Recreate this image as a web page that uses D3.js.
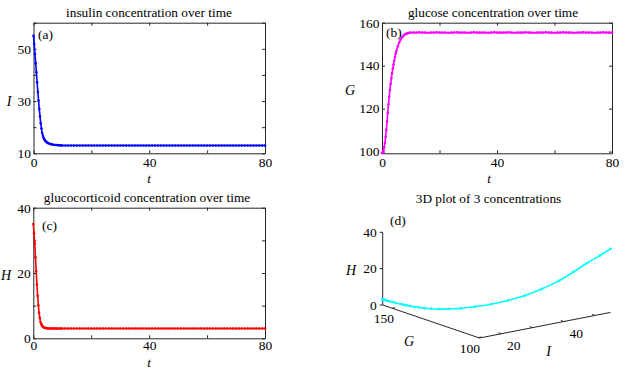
<!DOCTYPE html>
<html>
<head>
<meta charset="utf-8">
<script src="https://cdn.jsdelivr.net/npm/d3@7"></script>
<style>
body { margin: 0; background: #fff; }
svg text { font-family: "Liberation Serif", "Times New Roman", serif; fill: #000; }
</style>
</head>
<body>
<div id="chart"></div>
<script>
// sample times
const time = [0, 0.25, 0.5, 0.75, 1, 1.25, 1.5, 1.75, 2, 2.25, 2.5, 2.75, 3, 3.25, 3.5, 3.75, 4, 4.25, 4.5, 4.75, 5,
    5.5, 6, 6.5, 7, 7.5, 8, 8.5, 9, 9.5, 10,
    11, 12, 13, 14, 15, 16, 17, 18, 19, 20, 21, 22, 23, 24, 25, 26, 27, 28, 29, 30,
    31, 32, 33, 34, 35, 36, 37, 38, 39, 40, 41, 42, 43, 44, 45, 46, 47, 48, 49, 50,
    51, 52, 53, 54, 55, 56, 57, 58, 59, 60, 61, 62, 63, 64, 65, 66, 67, 68, 69, 70,
    71, 72, 73, 74, 75, 76, 77, 78, 79, 80];

const insulin = [55, 51.8, 48, 44.5, 41, 37.2, 33.5, 30.2, 27, 24.1, 21.5, 19.5, 17.8, 16.7, 15.9, 15.3, 14.9, 14.55, 14.3, 14.1, 13.9,
    13.65, 13.5, 13.35, 13.25, 13.2, 13.15, 13.1, 13.05, 13.05, 13,
    13, 13, 13, 13, 13, 13, 13, 13, 13, 13,
    13, 13, 13, 13, 13, 13, 13, 13, 13, 13,
    13, 13, 13, 13, 13, 13, 13, 13, 13, 13,
    13, 13, 13, 13, 13, 13, 13, 13, 13, 13,
    13, 13, 13, 13, 13, 13, 13, 13, 13, 13,
    13, 13, 13, 13, 13, 13, 13, 13, 13, 13,
    13, 13, 13, 13, 13, 13, 13, 13, 13, 13];

const glucose = [99.3, 99.7, 100.5, 102, 104, 106.8, 110, 114, 118, 122, 125.5, 128.7, 131.5, 134.1, 136.5, 138.6, 140.5, 142.3, 144, 145.5, 146.8,
    149, 150.8, 152.2, 153.2, 154, 154.6, 154.9, 155.1, 155.3, 155.4,
    155.4, 155.4, 155.5, 155.4, 155.4, 155.3, 155.4, 155.4, 155.5, 155.4,
    155.4, 155.4, 155.3, 155.4, 155.4, 155.5, 155.4, 155.4, 155.4, 155.3,
    155.4, 155.5, 155.4, 155.4, 155.4, 155.4, 155.3, 155.4, 155.5, 155.4,
    155.4, 155.4, 155.4, 155.5, 155.4, 155.3, 155.4, 155.4, 155.4, 155.5,
    155.4, 155.4, 155.3, 155.4, 155.4, 155.4, 155.5, 155.4, 155.4, 155.3,
    155.4, 155.4, 155.5, 155.4, 155.4, 155.4, 155.3, 155.4, 155.4, 155.5,
    155.4, 155.4, 155.4, 155.3, 155.4, 155.4, 155.5, 155.4, 155.4, 155.4];

const cortisol = [35, 32.2, 29, 24.8, 20.5, 16.5, 13, 10.1, 7.8, 6.2, 5, 4.4, 3.9, 3.6, 3.4, 3.3, 3.2, 3.15, 3.1, 3.07, 3.05,
    3.02, 3, 3, 3, 3, 3, 3, 3, 3, 3,
    3, 3, 3, 3, 3, 3, 3, 3, 3, 3,
    3, 3, 3, 3, 3, 3, 3, 3, 3, 3,
    3, 3, 3, 3, 3, 3, 3, 3, 3, 3,
    3, 3, 3, 3, 3, 3, 3, 3, 3, 3,
    3, 3, 3, 3, 3, 3, 3, 3, 3, 3,
    3, 3, 3, 3, 3, 3, 3, 3, 3, 3,
    3, 3, 3, 3, 3, 3, 3, 3, 3, 3];

const xTicks = [0, 20, 40, 60, 80];
const xTickLabels = [0, 40, 80];

const axisColor = "#262626";
const tickFont = "13.5px";

const svg = d3.select("#chart").append("svg")
    .attr("width", 626)
    .attr("height", 370);

svg.append("rect").attr("width", 626).attr("height", 370).attr("fill", "#fff");

function timePanel(cfg) {
    const [l, r, t, b] = cfg.box;
    const g = svg.append("g");

    const x = d3.scaleLinear().domain([0, 80]).range([l, r]);
    const y = d3.scaleLinear().domain(cfg.yDomain).range([b, t]);

    const fmtX = d => xTickLabels.includes(d) ? d : "";
    const fmtY = d => cfg.yLabels.includes(d) ? d : "";

    g.append("g").attr("transform", "translate(0," + b + ")")
        .call(d3.axisBottom(x).tickValues(xTicks).tickFormat(fmtX).tickSizeInner(-3).tickSizeOuter(0).tickPadding(cfg.xPad));
    g.append("g").attr("transform", "translate(0," + t + ")")
        .call(d3.axisTop(x).tickValues(xTicks).tickFormat("").tickSizeInner(-3).tickSizeOuter(0));
    g.append("g").attr("transform", "translate(" + l + ",0)")
        .call(d3.axisLeft(y).tickValues(cfg.yTicks).tickFormat(fmtY).tickSizeInner(-3).tickSizeOuter(0).tickPadding(2.5));
    g.append("g").attr("transform", "translate(" + r + ",0)")
        .call(d3.axisRight(y).tickValues(cfg.yTicks).tickFormat("").tickSizeInner(-3).tickSizeOuter(0));

    g.selectAll(".domain, .tick line").attr("stroke", axisColor);
    g.selectAll(".tick text").style("font-size", tickFont);

    const pts = time.map((tt, i) => [tt, cfg.values[i]]);
    const line = d3.line().x(d => x(d[0])).y(d => y(d[1])).curve(d3.curveCatmullRom);

    g.append("path")
        .datum(pts)
        .attr("fill", "none")
        .attr("stroke", cfg.color)
        .attr("stroke-width", 1.6)
        .attr("d", line);

    g.selectAll("circle")
        .data(pts)
        .enter()
        .append("circle")
        .attr("cx", d => x(d[0]))
        .attr("cy", d => y(d[1]))
        .attr("r", 1.3)
        .attr("fill", cfg.color);

    g.append("text")
        .attr("x", cfg.titleX)
        .attr("y", cfg.titleY)
        .attr("text-anchor", "middle")
        .style("font-size", "13.3px")
        .text(cfg.title);

    g.append("text")
        .attr("x", cfg.tag[0])
        .attr("y", cfg.tag[1])
        .style("font-size", "13.5px")
        .text(cfg.tag[2]);

    g.append("text")
        .attr("x", cfg.yName[0])
        .attr("y", cfg.yName[1])
        .attr("text-anchor", "middle")
        .style("font-size", "14px")
        .style("font-style", "italic")
        .text(cfg.yName[2]);

    g.append("text")
        .attr("x", cfg.tName[0])
        .attr("y", cfg.tName[1])
        .attr("text-anchor", "middle")
        .style("font-size", "13px")
        .style("font-style", "italic")
        .text("t");
}

timePanel({
    box: [33.5, 265, 22.7, 153.3],
    yDomain: [10, 60],
    yTicks: [10, 20, 30, 40, 50, 60],
    yLabels: [10, 30, 50],
    values: insulin,
    color: "#0000ff",
    title: "insulin concentration over time",
    titleX: 149, titleY: 17,
    tag: [38, 39, "(a)"],
    yName: [9, 106, "I"],
    xPad: 4,
    tName: [149, 183]
});

timePanel({
    box: [382, 612, 22.7, 153.3],
    yDomain: [99.2, 160],
    yTicks: [100, 120, 140, 160],
    yLabels: [100, 120, 140, 160],
    values: glucose,
    color: "#ff00ff",
    title: "glucose concentration over time",
    titleX: 493, titleY: 17,
    tag: [386, 37, "(b)"],
    yName: [350, 95, "G"],
    xPad: 4,
    tName: [489, 183]
});

timePanel({
    box: [33.3, 265, 207.7, 338.3],
    yDomain: [0, 40],
    yTicks: [0, 10, 20, 30, 40],
    yLabels: [0, 20, 40],
    values: cortisol,
    color: "#ff0000",
    title: "glucocorticoid concentration over time",
    titleX: 147, titleY: 202,
    tag: [42, 230, "(c)"],
    yName: [6, 280, "H"],
    xPad: 2.5,
    tName: [149, 367]
});

// ---- 3D panel (d) ----
const hTicks = [0, 20, 40];
const gTicks = [100, 150];
const iTicks = [20, 30, 40, 50];
const iTickLabels = [20, 40];

const O = [382.7, 305];          // corner at (I min, G max, H 0)
const gVec = [96.8, 33];         // G max -> G min
const iVec = [131, -25.6];       // I min -> I max
const hLen = 72.7;               // H 0 -> 40

const sI = d3.scaleLinear().domain(d3.extent(insulin)).range([0, 1]);
const sG = d3.scaleLinear().domain([d3.max(glucose), d3.min(glucose)]).range([0, 1]);
const sH = d3.scaleLinear().domain([0, 40]).range([0, hLen]);

function proj(i, gl, h) {
    return [O[0] + sG(gl) * gVec[0] + sI(i) * iVec[0],
            O[1] + sG(gl) * gVec[1] + sI(i) * iVec[1] - sH(h)];
}

const d3g = svg.append("g");
const [iMin, iMax] = d3.extent(insulin);
const [gMin, gMax] = d3.extent(glucose);

function seg(a, b) {
    d3g.append("line")
        .attr("x1", a[0]).attr("y1", a[1])
        .attr("x2", b[0]).attr("y2", b[1])
        .attr("stroke", axisColor)
        .attr("stroke-width", 1);
}

// axis lines
seg(proj(iMin, gMax, 0), proj(iMin, gMax, 40));
seg(proj(iMin, gMax, 0), proj(iMin, gMin, 0));
seg(proj(iMin, gMin, 0), proj(iMax, gMin, 0));

// H ticks
hTicks.forEach(h => {
    const p = proj(iMin, gMax, h);
    seg(p, [p[0] - 3, p[1]]);
    d3g.append("text")
        .attr("x", p[0] - 6).attr("y", p[1]).attr("dy", "0.35em")
        .attr("text-anchor", "end")
        .style("font-size", tickFont)
        .text(h);
});

// G ticks
const iUnit = Math.hypot(iVec[0], iVec[1]);
gTicks.forEach(v => {
    const p = proj(iMin, v, 0);
    seg(p, [p[0] + 3 * iVec[0] / iUnit, p[1] + 3 * iVec[1] / iUnit]);
    d3g.append("text")
        .attr("x", p[0] - 8.4).attr("y", p[1] + 10.2).attr("dy", "0.35em")
        .attr("text-anchor", "middle")
        .style("font-size", tickFont)
        .text(v);
});

// I ticks
const gUnit = Math.hypot(gVec[0], gVec[1]);
iTicks.forEach(v => {
    const p = proj(v, gMin, 0);
    seg(p, [p[0] - 3 * gVec[0] / gUnit, p[1] - 3 * gVec[1] / gUnit]);
    if (iTickLabels.includes(v)) {
        d3g.append("text")
            .attr("x", p[0] + 12.5).attr("y", p[1] + 12).attr("dy", "0.35em")
            .attr("text-anchor", "middle")
            .style("font-size", tickFont)
            .text(v);
    }
});

// trajectory
const traj = time.map((tt, k) => proj(insulin[k], glucose[k], cortisol[k]));
d3g.append("path")
    .datum(traj)
    .attr("fill", "none")
    .attr("stroke", "#00ffff")
    .attr("stroke-width", 1.6)
    .attr("d", d3.line().curve(d3.curveCatmullRom));

d3g.selectAll("circle")
    .data(traj)
    .enter()
    .append("circle")
    .attr("cx", d => d[0])
    .attr("cy", d => d[1])
    .attr("r", 1.3)
    .attr("fill", "#00ffff");

// labels
d3g.append("text")
    .attr("x", 488.5).attr("y", 202.5)
    .attr("text-anchor", "middle")
    .style("font-size", "13.3px")
    .text("3D plot of 3 concentrations");

d3g.append("text")
    .attr("x", 390).attr("y", 224.5)
    .style("font-size", "13.5px")
    .text("(d)");

const names3d = [["H", 351, 275], ["G", 409, 346], ["I", 548.5, 356]];
names3d.forEach(n => {
    d3g.append("text")
        .attr("x", n[1]).attr("y", n[2])
        .attr("text-anchor", "middle")
        .style("font-size", "14px")
        .style("font-style", "italic")
        .text(n[0]);
});
</script>
</body>
</html>
